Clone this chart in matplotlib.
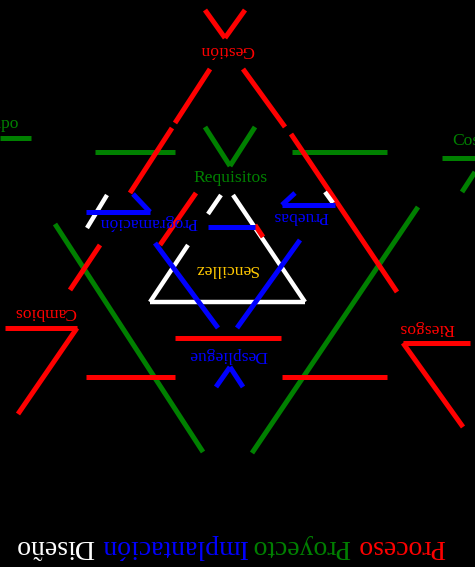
import matplotlib.pyplot as plt

# segments in picture coordinates (x0, y0, x1, y1), y grows downward
green_segments = [
    (205, 127, 230, 166), (255, 127, 230, 166),
    (95, 152, 175, 152), (292, 152, 387, 152),
    (0, 138, 31, 138),
    (442, 158, 475, 158), (475, 172, 462, 192),
    (55, 224, 203, 452),
    (418, 207, 252, 453),
]
red_segments = [
    (205, 10, 225, 38), (245, 10, 225, 38),
    (210, 69, 175, 123), (172, 128, 130, 193),
    (100, 245, 70, 290),
    (243, 69, 285, 127), (291, 134, 397, 292),
    (196, 193, 160, 245),
    (175, 338, 281, 338),
    (86, 377, 175, 377), (282, 377, 387, 377),
    (5, 328, 77, 328), (77, 328, 18, 414),
    (403, 343, 470, 343), (403, 343, 463, 427),
]
white_segments = [
    (107, 195, 87, 228),
    (325, 192, 333, 203),
    (221, 195, 208, 214),
    (188, 245, 150, 302),
    (150, 302, 305, 302),
    (305, 302, 233, 195),
]
red_overlay = [(255, 225, 263, 237)]
blue_segments = [
    (86, 212, 150, 212), (150, 212, 133, 194),
    (282, 205, 335, 205), (282, 205, 295, 193),
    (208, 227, 255, 227),
    (155, 243, 218, 328),
    (300, 240, 237, 328),
    (216, 387, 230, 367), (230, 367, 243, 387),
]

# labels: text, x, y, color, rotation
label_texts = ["Gestión", "Requisitos", "Programación", "Pruebas", "Sencillez",
               "Despliegue", "Cambios", "Riesgos"]
label_x = [227, 231, 148, 301, 226, 228, 45, 427]
label_y = [50, 178, 222, 216, 269, 355, 312, 328]
label_colors = ["red", "green", "blue", "blue", "#FFC800", "blue", "red", "red"]
label_rot = [180, 0, 180, 180, 180, 180, 180, 180]

title_words = ["Proceso", "Proyecto", "Implantación", "Diseño"]
title_x = [401.5, 301.5, 173.5, 55]
title_colors = ["red", "green", "blue", "white"]

fig = plt.figure(figsize=(4.75, 5.67), dpi=100, facecolor="black")
ax = fig.add_axes([0, 0, 1, 1])
ax.set_facecolor("black")
ax.set_xlim(0, 475)
ax.set_ylim(567, 0)
ax.axis("off")


def draw(segments, color, lw=3.6, z=2):
    for x0, y0, x1, y1 in segments:
        ax.plot([x0, x1], [y0, y1], color=color, lw=lw,
                solid_capstyle="butt", zorder=z)


draw(green_segments, "green", z=2)
draw(red_segments, "red", z=3)
draw(white_segments, "white", lw=3.2, z=4)
draw(red_overlay, "red", z=5)
draw(blue_segments, "blue", z=6)

for t, x, y, c, r in zip(label_texts, label_x, label_y, label_colors, label_rot):
    ax.text(x, y, t, color=c, fontsize=12.6, family="Liberation Serif",
            ha="center", va="center", rotation=r, rotation_mode="anchor", zorder=8)

ax.text(19, 124, "Tiempo", color="green", fontsize=12.6, family="Liberation Serif",
        ha="right", va="center", zorder=8)
ax.text(452, 141, "Costo", color="green", fontsize=12.6, family="Liberation Serif",
        ha="left", va="center", zorder=8)

for w, x, c in zip(title_words, title_x, title_colors):
    ax.text(x, 547, w, color=c, fontsize=20, family="Liberation Serif",
            ha="center", va="center", rotation=180, rotation_mode="anchor", zorder=8)

fig.savefig("out.png", dpi=100, facecolor="black")
